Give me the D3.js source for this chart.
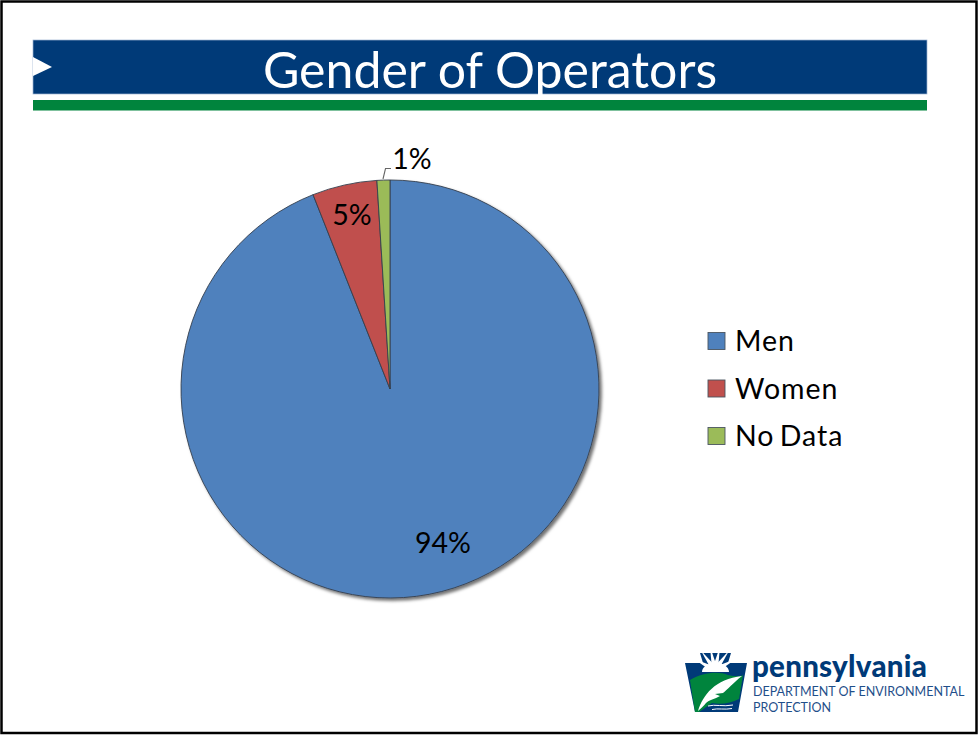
<!DOCTYPE html>
<html><head><meta charset="utf-8">
<script src="https://cdn.jsdelivr.net/npm/d3@7"></script>
<style>html,body{margin:0;padding:0;background:#fff}svg{display:block}text{font-family:Lato,"Open Sans",sans-serif;fill:#000}</style>
</head><body><svg id="c" width="978" height="735"></svg>
<script>
const titleText = "Gender of Operators";
const categories = ["Men","Women","No Data"];
const values = [94,5,1];
const colors = ["#4f81bd","#c0504d","#9bbb59"];
const labels = ["94%","5%","1%"];

const svg = d3.select("#c");
const defs = svg.append("defs");
const f = defs.append("filter").attr("id","sh").attr("x","-10%").attr("y","-10%").attr("width","120%").attr("height","120%");
f.append("feDropShadow").attr("dx",2.5).attr("dy",2.5).attr("stdDeviation",1.8).attr("flood-color","#000").attr("flood-opacity",0.55);

svg.append("rect").attr("x",1.5).attr("y",1.5).attr("width",975).attr("height",731.5).attr("fill","#fff").attr("stroke","#000").attr("stroke-width",2.5);

svg.append("rect").attr("x",33).attr("y",40).attr("width",894).attr("height",54).attr("fill","#003a78").attr("stroke","#9db4d2").attr("stroke-width",0.7);
svg.append("path").attr("d",d3.line()([[33,57],[52,67],[33,76]])).attr("fill","#fff");
svg.append("rect").attr("x",33).attr("y",100).attr("width",894).attr("height",10.5).attr("fill","#00843d");
svg.append("text").attr("x",490).attr("y",88).attr("text-anchor","middle").attr("font-size",50).style("fill","#fff").text(titleText);

const cx=390, cy=389, R=209;
const pie = d3.pie().sort(null).value(d=>d)(values);
const arc = d3.arc().innerRadius(0).outerRadius(R);
const g = svg.append("g").attr("transform",`translate(${cx},${cy})`);
g.append("g").attr("filter","url(#sh)").selectAll("path").data(pie).join("path")
  .attr("d",arc).attr("fill",(d,i)=>colors[i]).attr("stroke","#36404e").attr("stroke-width",0.9);

const labelPos = [[443,543],[352,215],[412,159]];
svg.selectAll("text.l").data(labels).join("text").attr("class","l")
  .attr("x",(d,i)=>labelPos[i][0]).attr("y",(d,i)=>labelPos[i][1]+10)
  .attr("text-anchor","middle").attr("font-size",28.5).text(d=>d);
svg.append("path").attr("d",d3.line()([[383,179],[385.5,168.5],[391,168.5]])).attr("fill","none").attr("stroke","#666").attr("stroke-width",1.1);

const legendY = d3.scalePoint().domain(categories).range([341,436]);
const lg = svg.selectAll("g.lg").data(categories).join("g").attr("class","lg").attr("transform",d=>`translate(708,${legendY(d)})`);
lg.append("rect").attr("y",-8.5).attr("width",17).attr("height",17).attr("fill",(d,i)=>colors[i]).attr("stroke","#4a5560").attr("stroke-width",0.9);
lg.append("text").attr("x",27).attr("y",10).attr("font-size",28.5).attr("letter-spacing",1).attr("word-spacing",-3).text(d=>d);

// Logo
const L = svg.append("g").attr("transform","translate(685,653)");
L.append("path").attr("d","M0,10H18L15,0H46L43,10H62L53,59H10Z").attr("fill","#003a78");
[-62,-36,-12,12,36,62].forEach(a=>{
  L.append("path").attr("d","M-2.2,-6L0,-24L2.2,-6Z").attr("fill","#fff").attr("transform",`translate(30,17) rotate(${a})`);
});
L.append("path").attr("d","M17,19A13,9 0 0 1 44,19Z").attr("fill","#fff");
L.append("path").attr("d","M5,27C18,19 34,18 43,22C52,24 57,23 58,22L54,46C46,50 36,52 27,50L14,59H10Z").attr("fill","#00843d");
L.append("path").attr("d","M13,58C18,42 30,26 57,23C48,30 42,37 38,40L30,41L35,43C30,46 24,47 21,50C19,53 16,55 13,58Z").attr("fill","#fff");
L.append("path").attr("d","M23,53C30,51 38,54 48,52M27,56.5C33,55 40,57 47,55.5").attr("stroke","#fff").attr("stroke-width",1).attr("fill","none");
const lt = svg.append("g");
lt.append("text").attr("x",752).attr("y",677).attr("font-size",29.5).attr("font-weight",900).attr("letter-spacing",0.25).style("fill","#003a78").text("pennsylvania");
lt.append("text").attr("x",753).attr("y",696).attr("font-size",12.5).style("fill","#1f4f8a").text("DEPARTMENT OF ENVIRONMENTAL");
lt.append("text").attr("x",753).attr("y",712).attr("font-size",12.5).style("fill","#1f4f8a").text("PROTECTION");
</script></body></html>
